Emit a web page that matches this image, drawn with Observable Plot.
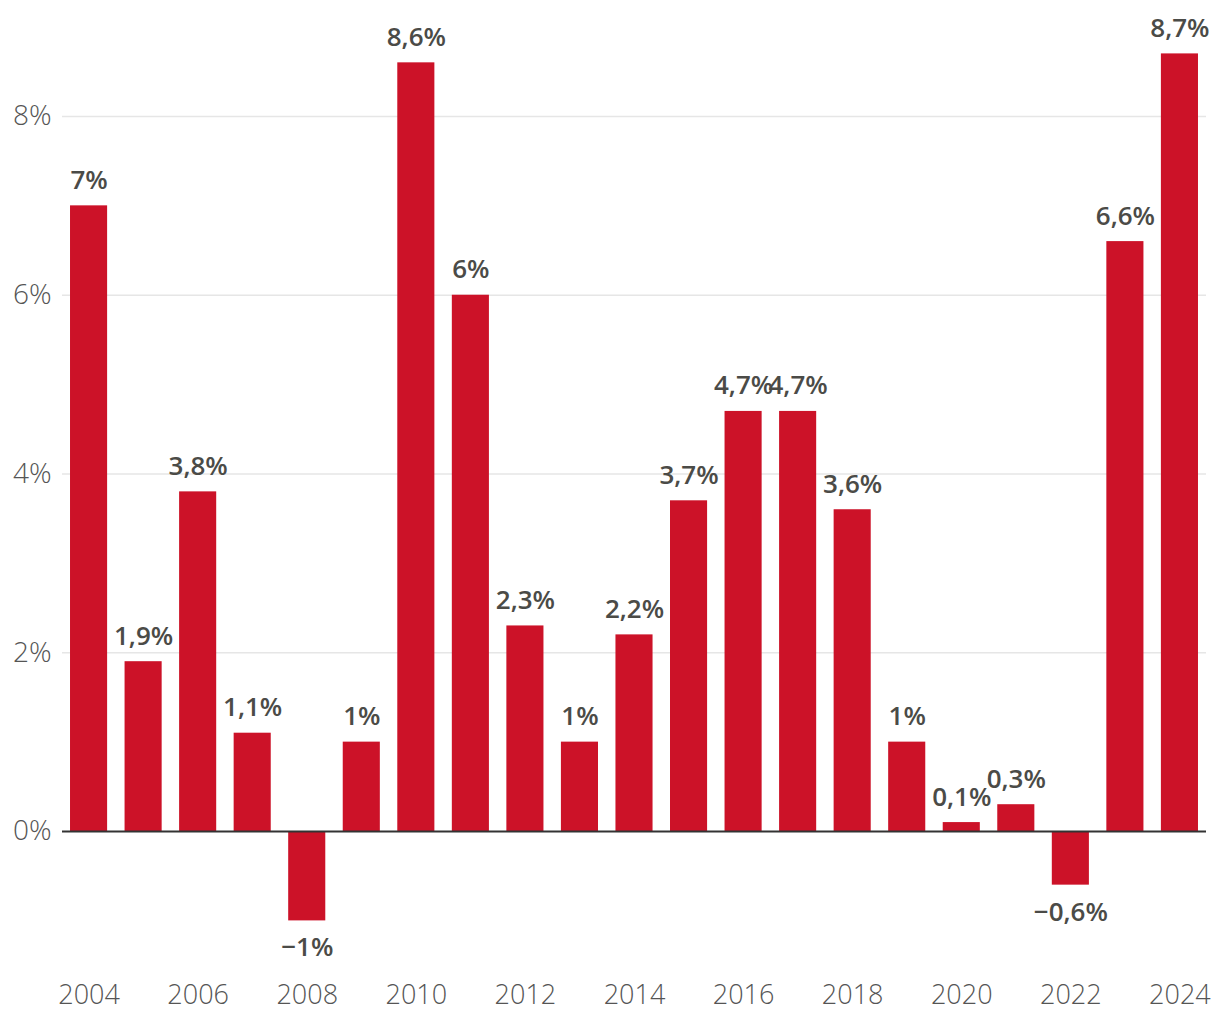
<!DOCTYPE html>
<html>
<head>
<meta charset="utf-8">
<script src="https://cdn.jsdelivr.net/npm/d3@7"></script>
<script src="https://cdn.jsdelivr.net/npm/@observablehq/plot@0.6"></script>
<style>
  html, body { margin: 0; padding: 0; background: #fff; }
  #chart svg { display: block; }
</style>
</head>
<body>
<div id="chart"></div>
<script>
const years = [2004, 2005, 2006, 2007, 2008, 2009, 2010, 2011, 2012, 2013, 2014, 2015, 2016, 2017, 2018, 2019, 2020, 2021, 2022, 2023, 2024];
const values = [7, 1.9, 3.8, 1.1, -1, 1, 8.6, 6, 2.3, 1, 2.2, 3.7, 4.7, 4.7, 3.6, 1, 0.1, 0.3, -0.6, 6.6, 8.7];
const yTicks = [0, 2, 4, 6, 8];
const xTicks = [2004, 2006, 2008, 2010, 2012, 2014, 2016, 2018, 2020, 2022, 2024];

const data = years.map((year, i) => ({year, value: values[i]}));
const fmt = v => (v < 0 ? "\u2212" : "") + String(Math.abs(v)).replace(".", ",") + "%";

const font = "'Open Sans', 'Noto Sans', sans-serif";

const chart = Plot.plot({
  width: 1220,
  height: 1020,
  marginLeft: 62,
  marginRight: 14,
  marginTop: 53.4,
  marginBottom: 99.6,
  style: {fontFamily: font, background: "#fff"},
  x: {type: "band", domain: years, paddingInner: 0.32, paddingOuter: 0.147, round: false, label: null},
  y: {domain: [-1, 8.7], label: null},
  marks: [
    Plot.gridY({ticks: yTicks.filter(d => d !== 0), stroke: "#e6e6e6", strokeOpacity: 1, strokeWidth: 1.5}),
    Plot.axisY({ticks: yTicks, tickSize: 0, tickPadding: 11, tickFormat: d => d + "%", fontSize: 28, fontWeight: 300, fill: "#555", label: null}),
    Plot.barY(data, {x: "year", y: "value", fill: "#cc1228"}),
    Plot.ruleY([0], {stroke: "#333", strokeWidth: 2}),
    Plot.axisX({ticks: xTicks, tickSize: 0, tickPadding: 64, fontSize: 27, fontWeight: 300, fill: "#555", label: null, tickFormat: d => String(d)}),
    Plot.text(data.filter(d => d.value >= 0), {x: "year", y: "value", text: d => fmt(d.value), lineAnchor: "bottom", dy: -17, fontSize: 26, fontWeight: 600, fill: "#4b4b47"}),
    Plot.text(data.filter(d => d.value < 0), {x: "year", y: "value", text: d => fmt(d.value), lineAnchor: "top", dy: 17, fontSize: 26, fontWeight: 600, fill: "#4b4b47"})
  ]
});
document.getElementById("chart").appendChild(chart);
</script>
</body>
</html>
